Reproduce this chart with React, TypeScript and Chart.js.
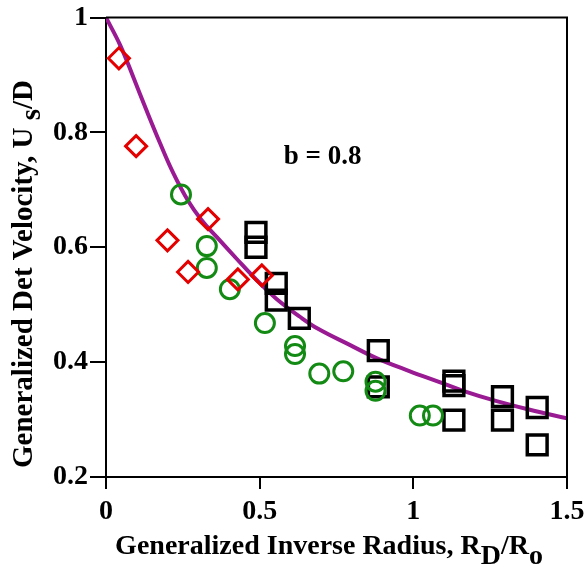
import React, { useEffect, useRef } from "react";
import { Chart, registerables } from "chart.js";

Chart.register(...registerables);

const redX = [0.042, 0.098, 0.2, 0.267, 0.332, 0.429, 0.507];
const redY = [0.929, 0.776, 0.612, 0.557, 0.649, 0.544, 0.551];

const greenX = [0.244, 0.328, 0.328, 0.403, 0.517, 0.615, 0.615, 0.694, 0.772, 0.877, 0.877, 1.021, 1.064];
const greenY = [0.692, 0.602, 0.564, 0.527, 0.468, 0.428, 0.414, 0.38, 0.384, 0.366, 0.35, 0.307, 0.307];

const blackX = [0.488, 0.488, 0.554, 0.554, 0.629, 0.886, 0.886, 1.132, 1.132, 1.132, 1.29, 1.29, 1.403, 1.403];
const blackY = [0.626, 0.6, 0.537, 0.508, 0.476, 0.42, 0.357, 0.367, 0.359, 0.299, 0.34, 0.299, 0.321, 0.256];

const curveX = [0, 0.046, 0.089, 0.132, 0.176, 0.219, 0.268, 0.31, 0.36, 0.425, 0.49, 0.555, 0.631, 0.69, 0.793, 0.88, 0.989, 1.081, 1.162, 1.271, 1.379, 1.5];
const curveY = [1.0, 0.952, 0.896, 0.838, 0.781, 0.729, 0.68, 0.648, 0.618, 0.58, 0.543, 0.51, 0.479, 0.458, 0.43, 0.407, 0.384, 0.366, 0.35, 0.332, 0.317, 0.302];

const xTicks = [0, 0.5, 1, 1.5];
const yTicks = [0.2, 0.4, 0.6, 0.8, 1];

const annotationText = "b = 0.8";
const xTitleParts = [
  { t: "Generalized Inverse Radius, R", sub: false },
  { t: "D", sub: true },
  { t: "/R", sub: false },
  { t: "o", sub: true },
];
const yTitleParts = [
  { t: "Generalized Det Velocity, U ", sub: false },
  { t: "s", sub: true },
  { t: "/D", sub: false },
];

const FONT = '"Liberation Serif", "Times New Roman", serif';

const zip = (xs: number[], ys: number[]) => xs.map((x, i) => ({ x, y: ys[i] }));

function drawParts(ctx: CanvasRenderingContext2D, parts: { t: string; sub: boolean }[], cx: number, baseY: number, subShift: number) {
  const widths = parts.map((p) => ctx.measureText(p.t).width);
  const total = widths.reduce((a, b) => a + b, 0);
  let x = cx - total / 2;
  ctx.textAlign = "left";
  ctx.textBaseline = "alphabetic";
  parts.forEach((p, i) => {
    ctx.fillText(p.t, x, baseY + (p.sub ? subShift : 0));
    x += widths[i];
  });
}

const framePlugin = {
  id: "framePlugin",
  afterDraw(chart: any) {
    const { ctx, chartArea } = chart;
    ctx.save();
    ctx.strokeStyle = "#000";
    ctx.lineWidth = 2;
    ctx.beginPath();
    ctx.moveTo(chartArea.left, chartArea.top);
    ctx.lineTo(chartArea.right, chartArea.top);
    ctx.lineTo(chartArea.right, chartArea.bottom);
    ctx.stroke();

    ctx.fillStyle = "#000";
    ctx.font = `bold 28px ${FONT}`;
    drawParts(ctx, xTitleParts, 329, 554, 10);
    ctx.save();
    ctx.translate(32, 274);
    ctx.rotate(-Math.PI / 2);
    ctx.font = `bold 29px ${FONT}`;
    drawParts(ctx, yTitleParts, 0, 0, 8);
    ctx.restore();

    ctx.font = `bold 27px ${FONT}`;
    ctx.textAlign = "center";
    ctx.textBaseline = "middle";
    const xs = chart.scales.x;
    const ys = chart.scales.y;
    ctx.fillText(annotationText, xs.getPixelForValue(0.705), ys.getPixelForValue(0.757));
    ctx.restore();
  },
};

export default function App() {
  const ref = useRef<HTMLCanvasElement | null>(null);
  useEffect(() => {
    if (!ref.current) return;
    const tickFont = { family: FONT, size: 28, weight: "bold" as const };
    const chart = new Chart(ref.current, {
      type: "scatter",
      data: {
        datasets: [
          {
            label: "fit",
            data: zip(curveX, curveY),
            showLine: true,
            borderColor: "#991a92",
            borderWidth: 4,
            pointRadius: 0,
            tension: 0.4,
            order: 10,
          } as any,
          {
            label: "red",
            data: zip(redX, redY),
            pointStyle: "rectRot",
            pointRadius: 10.5,
            pointBorderWidth: 3,
            pointBorderColor: "#e50000",
            pointBackgroundColor: "rgba(0,0,0,0)",
            order: 1,
          },
          {
            label: "green",
            data: zip(greenX, greenY),
            pointStyle: "circle",
            pointRadius: 9.5,
            pointBorderWidth: 3,
            pointBorderColor: "#138a13",
            pointBackgroundColor: "rgba(0,0,0,0)",
            order: 2,
          },
          {
            label: "black",
            data: zip(blackX, blackY),
            pointStyle: "rect",
            pointRadius: 14,
            pointBorderWidth: 3.5,
            pointBorderColor: "#000",
            pointBackgroundColor: "rgba(0,0,0,0)",
            order: 3,
          },
        ],
      },
      options: {
        animation: false,
        responsive: true,
        maintainAspectRatio: false,
        layout: { padding: { top: 17, right: 20, left: 0, bottom: 0 } },
        plugins: { legend: { display: false }, tooltip: { enabled: false } },
        scales: {
          x: {
            type: "linear",
            min: 0,
            max: 1.5,
            afterBuildTicks: (s: any) => {
              s.ticks = xTicks.map((v) => ({ value: v }));
            },
            afterFit: (s: any) => {
              s.height = 98;
              s.paddingLeft = 0;
              s.paddingRight = 0;
            },
            ticks: { color: "#000", font: tickFont, padding: 6, maxRotation: 0, callback: (v: any) => String(v) },
            grid: { drawOnChartArea: false, drawTicks: true, tickLength: 12, color: "#000", lineWidth: 2 },
            border: { color: "#000", width: 2 },
          },
          y: {
            type: "linear",
            min: 0.2,
            max: 1,
            afterBuildTicks: (s: any) => {
              s.ticks = yTicks.map((v) => ({ value: v }));
            },
            afterFit: (s: any) => {
              s.width = 106;
              s.paddingTop = 0;
              s.paddingBottom = 0;
            },
            ticks: { color: "#000", font: tickFont, padding: 2, callback: (v: any) => String(v) },
            grid: { drawOnChartArea: false, drawTicks: true, tickLength: 16, color: "#000", lineWidth: 2 },
            border: { color: "#000", width: 2 },
          },
        },
      },
      plugins: [framePlugin],
    });
    return () => chart.destroy();
  }, []);
  return (
    <div style={{ position: "absolute", left: 0, top: 0, width: 587, height: 575, background: "#fff" }}>
      <canvas ref={ref} width={587} height={575} />
    </div>
  );
}
